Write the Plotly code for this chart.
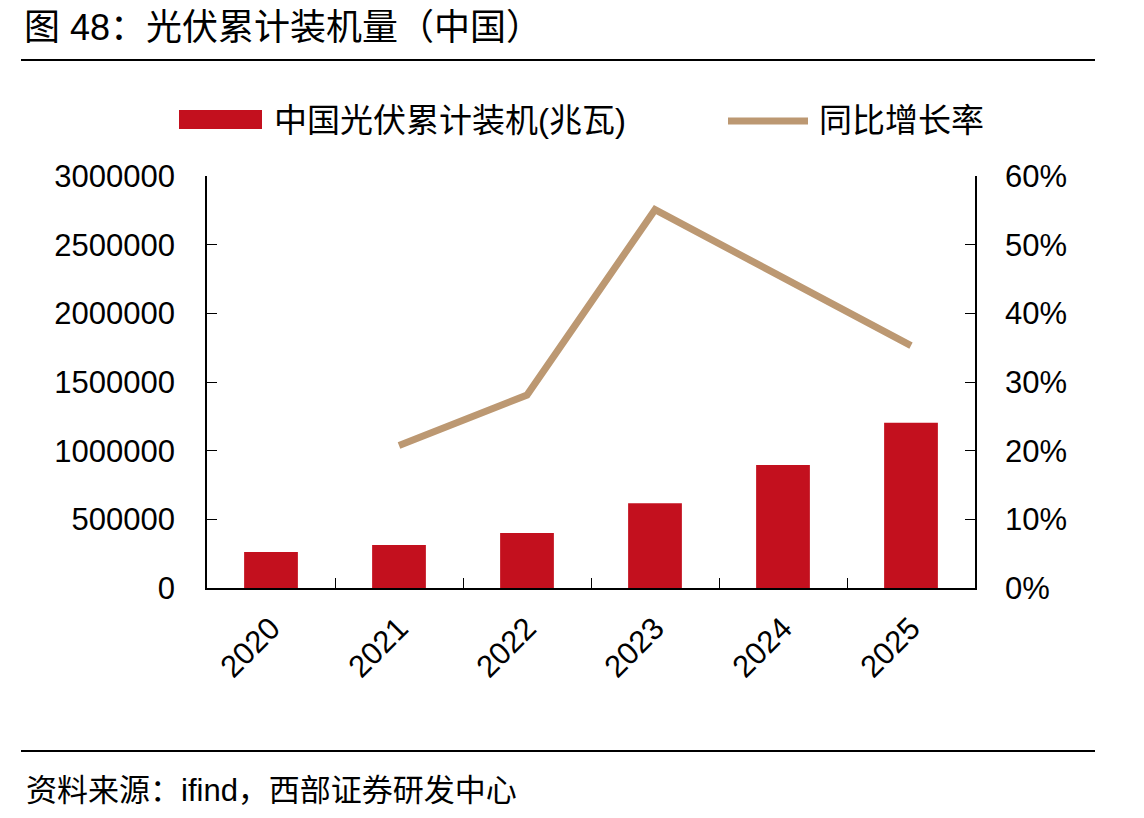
import plotly.graph_objects as go

years = ["2020", "2021", "2022", "2023", "2024", "2025"]
capacity_mw = [262000, 313000, 400000, 618000, 896000, 1203000]
growth_years = ["2021", "2022", "2023", "2024", "2025"]
growth_rate = [0.2075, 0.281, 0.551, 0.453, 0.353]

left_ticks = [0, 500000, 1000000, 1500000, 2000000, 2500000, 3000000]
right_ticks = [0, 0.1, 0.2, 0.3, 0.4, 0.5, 0.6]

title_text = "图 48：光伏累计装机量（中国）"
source_text = "资料来源：ifind，西部证券研发中心"
bar_name = "中国光伏累计装机(兆瓦)"
line_name = "同比增长率"

BAR_COLOR = "#C3101E"
LINE_COLOR = "#BC9872"
FONT = "Liberation Sans, Arial, Noto Sans CJK SC"

W, H = 1144, 818
L, R, T, B = 207, 975, 176, 588


def px(x):
    return (x - L) / (R - L)


def py(y):
    return (B - y) / (B - T)


fig = go.Figure()
fig.add_trace(go.Bar(x=years, y=capacity_mw, marker_color=BAR_COLOR,
                     marker_line_width=0, name=bar_name, showlegend=False))
fig.add_trace(go.Scatter(x=growth_years, y=growth_rate, yaxis="y2", mode="lines",
                         line=dict(color=LINE_COLOR, width=7), name=line_name,
                         showlegend=False))

axis_font = dict(family=FONT, size=31, color="#000")

fig.update_layout(
    width=W, height=H,
    margin=dict(l=L, r=W - R, t=T, b=H - B, pad=0),
    paper_bgcolor="white", plot_bgcolor="white",
    bargap=0.58,
    xaxis=dict(type="category", showline=True, linecolor="#000", linewidth=1.5,
               ticks="inside", ticklen=10, tickcolor="#000", tickwidth=1.2,
               tickson="boundaries", tickangle=-45, tickfont=axis_font,
               showgrid=False, zeroline=False, ticklabelstandoff=8),
    yaxis=dict(range=[0, 3000000], tickvals=left_ticks, tickformat="d",
               showline=True, linecolor="#000", linewidth=1.5,
               ticks="inside", ticklen=10, tickcolor="#000", tickwidth=1.2,
               tickfont=axis_font, showgrid=False, zeroline=False,
               ticklabelstandoff=24),
    yaxis2=dict(range=[0, 0.6], tickvals=right_ticks, tickformat=".0%",
                overlaying="y", side="right",
                showline=True, linecolor="#000", linewidth=1.5,
                ticks="inside", ticklen=10, tickcolor="#000", tickwidth=1.2,
                tickfont=axis_font, showgrid=False, zeroline=False,
                ticklabelstandoff=22),
    showlegend=False,
)

shapes = [
    dict(type="line", xref="paper", yref="paper", x0=px(21), x1=px(1095),
         y0=py(60), y1=py(60), line=dict(color="#000", width=2)),
    dict(type="line", xref="paper", yref="paper", x0=px(21), x1=px(1095),
         y0=py(751), y1=py(751), line=dict(color="#000", width=2)),
    dict(type="rect", xref="paper", yref="paper", x0=px(179), x1=px(262),
         y0=py(129), y1=py(110), fillcolor=BAR_COLOR, line=dict(width=0)),
    dict(type="line", xref="paper", yref="paper", x0=px(728), x1=px(808),
         y0=py(121), y1=py(121), line=dict(color=LINE_COLOR, width=7)),
]
fig.update_layout(shapes=shapes)

ann = [
    dict(text=title_text, x=px(22), y=py(28), xanchor="left", yanchor="middle",
         font=dict(family=FONT, size=36, color="#000")),
    dict(text=bar_name, x=px(272), y=py(121), xanchor="left", yanchor="middle",
         font=dict(family=FONT, size=33, color="#000")),
    dict(text=line_name, x=px(817), y=py(121), xanchor="left", yanchor="middle",
         font=dict(family=FONT, size=33, color="#000")),
    dict(text=source_text, x=px(24), y=py(790), xanchor="left", yanchor="middle",
         font=dict(family=FONT, size=31, color="#000")),
]
for a in ann:
    a.update(xref="paper", yref="paper", showarrow=False)
fig.update_layout(annotations=ann)

fig.write_html("out.html")
